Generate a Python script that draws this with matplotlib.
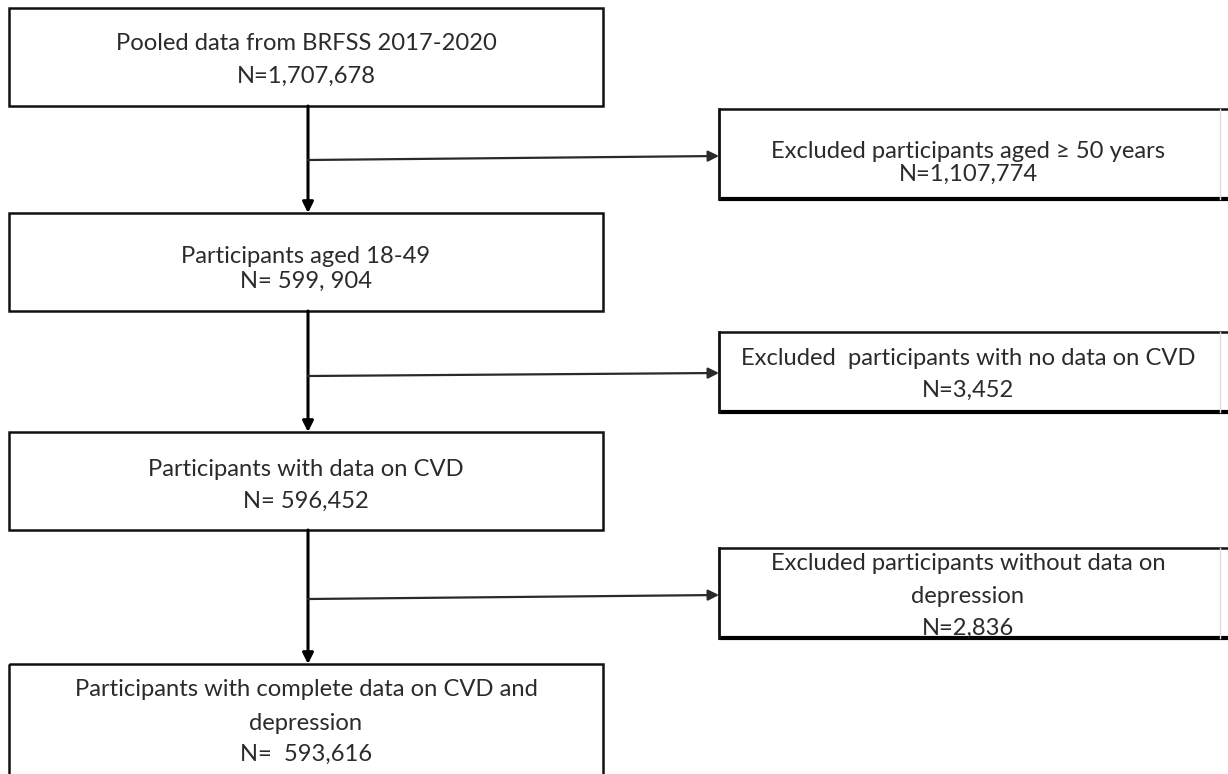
import matplotlib
matplotlib.use("Agg")
import matplotlib.pyplot as plt
from matplotlib.patches import Rectangle

# ---- content ----
main_labels = [
    "Pooled data from BRFSS 2017-2020",
    "Participants aged 18-49",
    "Participants with data on CVD",
    "Participants with complete data on CVD and\ndepression",
]
main_counts = ["N=1,707,678", "N= 599, 904", "N= 596,452", "N=  593,616"]

excl_labels = [
    "Excluded participants aged \u2265 50 years",
    "Excluded  participants with no data on CVD",
    "Excluded participants without data on\ndepression",
]
excl_counts = ["N=1,107,774", "N=3,452", "N=2,836"]

# ---- layout (pixel space) ----
W, H = 1228, 774
fig = plt.figure(figsize=(W / 100, H / 100), dpi=100)
ax = fig.add_axes([0, 0, 1, 1])
ax.set_xlim(0, W)
ax.set_ylim(H, 0)
ax.axis("off")

FONT = "Lato"
TXT = "#2b2b2b"
FS = 17.1
DY = 1.5

main_x0, main_x1 = 9, 603
main_boxes = [(8, 106), (213, 311), (432, 530), (664, 790)]
main_line_ys = [[42, 75], [255, 280], [468, 500], [688, 722, 753]]

excl_x0, excl_x1 = 719, 1220
excl_boxes = [(109, 199), (332, 412), (548, 638)]
excl_line_ys = [[150, 173], [357, 389], [562, 595, 627]]

branch_y = [(160, 156), (376, 373), (599, 595)]
cx = 308

for (y0, y1), lab, cnt, ys in zip(main_boxes, main_labels, main_counts, main_line_ys):
    ax.add_patch(Rectangle((main_x0, y0), main_x1 - main_x0, y1 - y0,
                           fill=False, ec="#111111", lw=1.8, zorder=2))
    lines = lab.split("\n") + [cnt]
    for t, y in zip(lines, ys):
        ax.text(306, y + DY, t, ha="center", va="center", fontsize=FS,
                family=FONT, color=TXT)

for (y0, y1), lab, cnt, ys in zip(excl_boxes, excl_labels, excl_counts, excl_line_ys):
    ax.plot([excl_x0, W + 5], [y0, y0], color="#111111", lw=1.8, solid_capstyle="butt")
    ax.plot([excl_x0, W + 5], [y1, y1], color="#000000", lw=3.0, solid_capstyle="butt")
    ax.plot([excl_x0, excl_x0], [y0, y1], color="#111111", lw=2.0)
    ax.plot([excl_x1, excl_x1], [y0, y1], color="#dddddd", lw=1.0)
    lines = lab.split("\n") + [cnt]
    for t, y in zip(lines, ys):
        ax.text(968, y + DY, t, ha="center", va="center", fontsize=FS,
                family=FONT, color=TXT)

# vertical arrows
for i in range(len(main_boxes) - 1):
    ax.annotate("", xy=(cx, main_boxes[i + 1][0]), xytext=(cx, main_boxes[i][1]),
                arrowprops=dict(arrowstyle="-|>", color="black", lw=2.2,
                                mutation_scale=16, shrinkA=0, shrinkB=0))

# branch arrows
for (ya, yb) in branch_y:
    ax.annotate("", xy=(excl_x0, yb), xytext=(cx, ya),
                arrowprops=dict(arrowstyle="-|>", color="#2a2a2a", lw=1.6,
                                mutation_scale=16, shrinkA=0, shrinkB=0))

fig.savefig("out.png", dpi=100, facecolor="white")
